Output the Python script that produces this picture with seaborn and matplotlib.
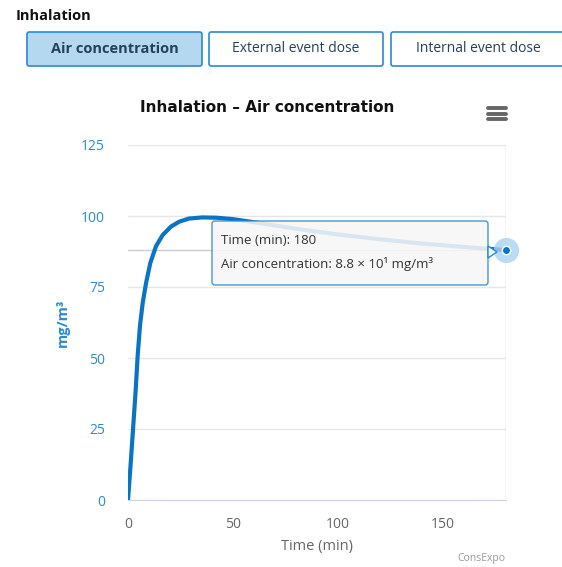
import matplotlib
matplotlib.use("Agg")
import matplotlib.pyplot as plt
from matplotlib.patches import FancyBboxPatch, Polygon
import pandas as pd
import seaborn as sns

# values
time_min = [0, 1.2, 2.4, 3.6, 4.6, 5.7, 7.0, 8.6, 10.6, 13.3, 16.5, 20.5, 24.4, 29, 35.5, 42,
            50, 60, 80, 100, 120, 140, 160, 180]
air_conc = [0, 12, 25, 38, 50.8, 61.3, 69.4, 76.4, 83.4, 89.3, 93.3, 96.3, 98, 99.1, 99.5, 99.4,
            98.9, 97.8, 95.5, 93.5, 91.8, 90.3, 89.1, 88.0]
x_ticks = [0, 50, 100, 150]
y_ticks = [0, 25, 50, 75, 100, 125]
buttons = ["Air concentration", "External event dose", "Internal event dose"]
hover_t = 180
hover_c = 88.0

df = pd.DataFrame({"Time (min)": time_min, "mg/m³": air_conc})

sns.set_style("white")
plt.rcParams["font.family"] = ["Open Sans", "DejaVu Sans"]

W, H = 562, 567
fig = plt.figure(figsize=(W / 100, H / 100), dpi=100)

def fx(px):
    return px / W

def fy(py):
    return 1 - py / H

ax = fig.add_axes([fx(128), fy(500), fx(506) - fx(128), fy(145) - fy(500)])

line_col = "#0a74c4"
sns.lineplot(data=df, x="Time (min)", y="mg/m³", ax=ax, color=line_col, lw=3, zorder=3)
ax.lines[0].set_solid_joinstyle("round")

ax.set_xlim(0, 180)
ax.set_ylim(0, 125)
ax.set_xticks(x_ticks)
ax.set_yticks(y_ticks)
ax.grid(axis="y", color="#e6e6e6", lw=1)
for s in ["top", "right", "left"]:
    ax.spines[s].set_visible(False)
ax.spines["bottom"].set_color("#ccd6eb")
ax.tick_params(axis="x", colors="#ccd6eb", length=8, width=1, labelcolor="#666666", labelsize=10, pad=4)
ax.tick_params(axis="y", length=0, labelcolor="#2a8ad4", labelsize=10, pad=16.5)
ax.set_xlabel("Time (min)", color="#666666", fontsize=10.5, labelpad=5)
ax.set_ylabel("mg/m³", color="#2a8ad4", fontsize=10.5, fontweight="bold")
ax.yaxis.set_label_coords(-0.155, 0.5)

# crosshairs of the hover
ax.axhline(hover_c, color="#cccccc", lw=1, zorder=1)
ax.axvline(hover_t, color="#cccccc", lw=1, zorder=1)
ax.scatter([hover_t], [hover_c], s=330, color="#a9d2f0", alpha=0.8, zorder=5, clip_on=False, lw=0)
ax.scatter([hover_t], [hover_c], s=36, color=line_col, edgecolor="white", lw=1, zorder=6, clip_on=False)

fig.text(fx(267), fy(107), "Inhalation – Air concentration", fontsize=11, fontweight="bold",
         family="DejaVu Sans", color="#111111", ha="center", va="center")

# hamburger menu
for yy in [108, 113.5, 119]:
    fig.add_artist(plt.Line2D([fx(488), fx(506)], [fy(yy), fy(yy)], color="#666666", lw=2.8,
                              solid_capstyle="round"))

# tooltip
tip = FancyBboxPatch((fx(212), fy(285)), fx(488) - fx(212), fy(221) - fy(285),
                     boxstyle="round,pad=0,rounding_size=0.005", transform=fig.transFigure,
                     facecolor="#f7f7f7", edgecolor="#2a8ad4", lw=1, alpha=0.88, zorder=10)
fig.add_artist(tip)
fig.add_artist(Polygon([[fx(488), fy(246)], [fx(497), fy(252)], [fx(488), fy(258)]],
                       closed=True, transform=fig.transFigure, facecolor="#f7f7f7",
                       edgecolor="#2a8ad4", lw=1, zorder=10))
fig.text(fx(221), fy(240), "Time (min): %d" % hover_t, fontsize=9.5, color="#333333",
         va="center", zorder=11)
fig.text(fx(221), fy(264), "Air concentration: %.1f × 10¹ mg/m³" % (hover_c / 10), fontsize=9.5,
         color="#333333", va="center", zorder=11)

# header and buttons
fig.text(fx(16), fy(16), "Inhalation", fontsize=10.5, fontweight="bold", color="#111111", va="center")
btn_x = [(27, 202), (209, 383), (391, 566)]
for i, (lbl, (x0, x1)) in enumerate(zip(buttons, btn_x)):
    active = i == 0
    b = FancyBboxPatch((fx(x0), fy(66)), fx(x1) - fx(x0), fy(32) - fy(66),
                       boxstyle="round,pad=0,rounding_size=0.004", transform=fig.transFigure,
                       facecolor="#b5d8f1" if active else "white",
                       edgecolor="#2a8ad4", lw=1.2)
    fig.add_artist(b)
    fig.text(fx((x0 + x1) / 2), fy(49), lbl, fontsize=10 if not active else 10.5, ha="center",
             va="center", fontweight="bold" if active else "normal", color="#24405e")

fig.text(fx(457), fy(559), "ConsExpo", fontsize=7.5, color="#999999", va="center")

fig.savefig("out.png", dpi=100)
